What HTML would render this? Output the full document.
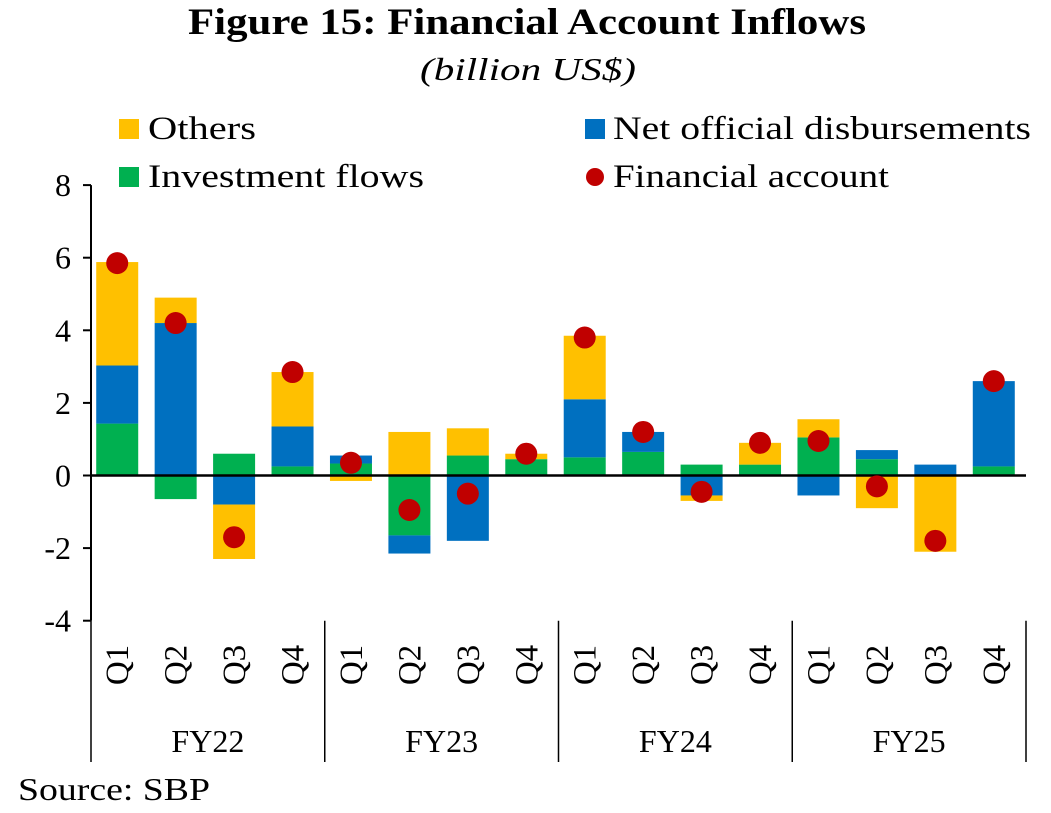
<!DOCTYPE html>
<html><head><meta charset="utf-8"><style>
body{margin:0;background:#fff;}
svg text{font-family:"Liberation Serif",serif;fill:#000;}
</style></head><body>
<svg id="chart" width="1051" height="808">
<text x="188" y="34" font-size="37" font-weight="bold" textLength="678" lengthAdjust="spacingAndGlyphs">Figure 15: Financial Account Inflows</text>
<text x="420" y="80" font-size="32" font-style="italic" textLength="216" lengthAdjust="spacingAndGlyphs">(billion US$)</text>
<g>
<g><rect x="119" y="119" width="20" height="20" fill="#FFC000"/><text x="148" y="139" font-size="33" textLength="108" lengthAdjust="spacingAndGlyphs">Others</text></g>
<g><rect x="585" y="119" width="20" height="20" fill="#0070C0"/><text x="613" y="139" font-size="33" textLength="418" lengthAdjust="spacingAndGlyphs">Net official disbursements</text></g>
<g><rect x="119" y="167" width="20" height="20" fill="#00B050"/><text x="148" y="187" font-size="33" textLength="276" lengthAdjust="spacingAndGlyphs">Investment flows</text></g>
<g><circle cx="595" cy="177" r="9" fill="#C00000"/><text x="613" y="187" font-size="33" textLength="276" lengthAdjust="spacingAndGlyphs">Financial account</text></g>
</g>
<g id="plot"></g>
<text x="18" y="800" font-size="32" textLength="192" lengthAdjust="spacingAndGlyphs">Source: SBP</text>
</svg>
<script>
const quarters=["Q1","Q2","Q3","Q4","Q1","Q2","Q3","Q4","Q1","Q2","Q3","Q4","Q1","Q2","Q3","Q4"];
const years=["FY22","FY23","FY24","FY25"];
const investment=[1.43,-0.65,0.6,0.25,0.33,-1.65,0.55,0.45,0.5,0.65,0.3,0.3,1.05,0.45,0,0.25];
const netOfficial=[1.6,4.2,-0.8,1.1,0.22,-0.5,-1.8,0,1.6,0.55,-0.55,0,-0.55,0.25,0.3,2.35];
const others=[2.85,0.7,-1.5,1.5,-0.15,1.2,0.75,0.15,1.75,0,-0.15,0.6,0.5,-0.9,-2.1,0];
const financialAccount=[5.85,4.2,-1.7,2.85,0.35,-0.95,-0.5,0.6,3.8,1.2,-0.45,0.9,0.95,-0.3,-1.8,2.6];
const yTicks=[8,6,4,2,0,-2,-4];
const NS="http://www.w3.org/2000/svg";
const plot=document.getElementById('plot');
const x0=91,x1=1026,step=(x1-x0)/quarters.length,bw=42;
function y(v){return 475.5-v*36.3;}
function xc(i){return x0+step*(i+0.5)-3;}
function mk(t,a){const e=document.createElementNS(NS,t);for(const k in a)e.setAttribute(k,a[k]);plot.appendChild(e);return e;}
let ax=mk('line',{x1:x0,y1:y(8),x2:x0,y2:y(-4),stroke:'#000','stroke-width':2});


yTicks.forEach(v=>{
 let t=mk('line',{x1:x0-8,y1:y(v),x2:x0,y2:y(v),stroke:'#000','stroke-width':2});
 
 
 let l=mk('text',{x:x0-20,y:y(v)+11,'text-anchor':'end','font-size':32});
 l.textContent=v;
 
 
});
const series=[[investment,'#00B050','investment'],[netOfficial,'#0070C0','net-official'],[others,'#FFC000','others']];
quarters.forEach((q,i)=>{
 let pos=0,neg=0;
 series.forEach(([arr,c,n])=>{
  const v=arr[i]; if(!v)return;
  let a,b;
  if(v>0){a=pos;b=pos+v;pos=b;}else{a=neg;b=neg+v;neg=b;}
  const r=mk('rect',{x:xc(i)-bw/2,y:Math.min(y(a),y(b)),width:bw,height:Math.abs(y(a)-y(b)),fill:c});
  
  
 });
});
let zl=mk('line',{x1:x0,y1:y(0),x2:x1,y2:y(0),stroke:'#000','stroke-width':2.5});


financialAccount.forEach((v,i)=>{
 const d=mk('circle',{cx:xc(i),cy:y(v),r:11,fill:'#C00000'});
 
 
});
quarters.forEach((q,i)=>{
 const t=mk('text',{x:0,y:0,'font-size':33,'text-anchor':'middle',transform:`translate(${xc(i)+11},665) rotate(-90)`});
 t.textContent=q;
 
 
});
for(let g=0;g<=years.length;g++){
 const xx=x0+step*4*g;
 const s=mk('line',{x1:xx,y1:y(-4),x2:xx,y2:762,stroke:'#000','stroke-width':1.5});
 
 
}
years.forEach((yr,g)=>{
 const t=mk('text',{x:x0+step*4*(g+0.5),y:752,'font-size':32,'text-anchor':'middle'});
 t.textContent=yr;
 
 
});
</script>
</body></html>
